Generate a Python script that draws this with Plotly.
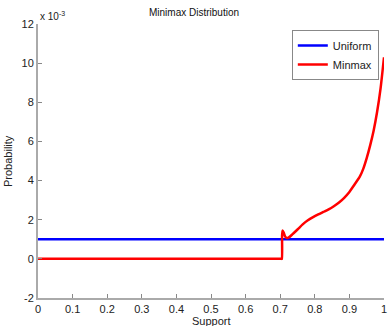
import plotly.graph_objects as go

uniform_x = [0, 1]
uniform_y = [1, 1]

minmax_x = [0, 0.35, 0.7, 0.704, 0.705, 0.7055, 0.707, 0.71, 0.714, 0.719, 0.725, 0.735,
            0.75, 0.765, 0.78, 0.795, 0.81, 0.825, 0.84, 0.855, 0.87, 0.885, 0.90, 0.915,
            0.93, 0.94, 0.95, 0.96, 0.97, 0.98, 0.99, 1.0]
minmax_y = [0, 0, 0, 0, 0, 1.2, 1.45, 1.35, 1.15, 1.06, 1.1, 1.25,
            1.5, 1.76, 1.97, 2.13, 2.27, 2.4, 2.53, 2.69, 2.88, 3.12, 3.42, 3.8,
            4.2, 4.6, 5.15, 5.8, 6.55, 7.5, 8.7, 10.3]

x_ticks = [0, 0.1, 0.2, 0.3, 0.4, 0.5, 0.6, 0.7, 0.8, 0.9, 1]
y_ticks = [-2, 0, 2, 4, 6, 8, 10, 12]

font = "Liberation Sans, Arial, sans-serif"

fig = go.Figure()
fig.add_trace(go.Scatter(x=uniform_x, y=uniform_y, mode="lines", name="Uniform",
                         line=dict(color="#0000ff", width=2.5)))
fig.add_trace(go.Scatter(x=minmax_x, y=minmax_y, mode="lines", name="Minmax",
                         line=dict(color="#ff0000", width=2.5, shape="spline", smoothing=0.6)))

fig.update_layout(
    width=388, height=326,
    margin=dict(l=38, r=4, t=24, b=28, autoexpand=False),
    plot_bgcolor="white", paper_bgcolor="white",
    font=dict(family=font, size=11, color="#222"),
    title=dict(text="Minimax Distribution", x=0.5, xanchor="center",
               yref="container", y=1 - 12 / 326, yanchor="middle",
               font=dict(size=10, color="#111")),
    showlegend=True,
    legend=dict(x=0.985, y=0.978, xanchor="right", yanchor="top",
                bordercolor="#888", borderwidth=1, bgcolor="white",
                font=dict(size=11), tracegroupgap=0, itemwidth=30),
    xaxis=dict(range=[0, 1], tickvals=x_ticks, ticktext=[str(v) for v in x_ticks],
               showgrid=False, zeroline=False, showline=True, linecolor="#aaa", linewidth=2,
               ticks="inside", ticklen=4, tickcolor="#888", automargin=False),
    yaxis=dict(range=[-2, 12], tickvals=y_ticks, ticktext=[str(v) for v in y_ticks],
               showgrid=False, zeroline=False, showline=True, linecolor="#aaa", linewidth=2,
               ticks="inside", ticklen=4, tickcolor="#888", automargin=False),
    annotations=[
        dict(text="x 10<sup>-3</sup>", xref="paper", yref="paper", x=0.0, y=1.0,
             xanchor="left", yanchor="bottom", showarrow=False,
             font=dict(size=10, color="#222")),
        dict(text="Support", xref="paper", yref="paper", x=0.5, y=-23 / 274,
             xanchor="center", yanchor="middle", showarrow=False,
             font=dict(size=11, color="#222")),
        dict(text="Probability", xref="paper", yref="paper", x=-30 / 346, y=0.5,
             xanchor="center", yanchor="middle", textangle=-90, showarrow=False,
             font=dict(size=11, color="#222")),
    ],
)

fig.write_html("out.html")
